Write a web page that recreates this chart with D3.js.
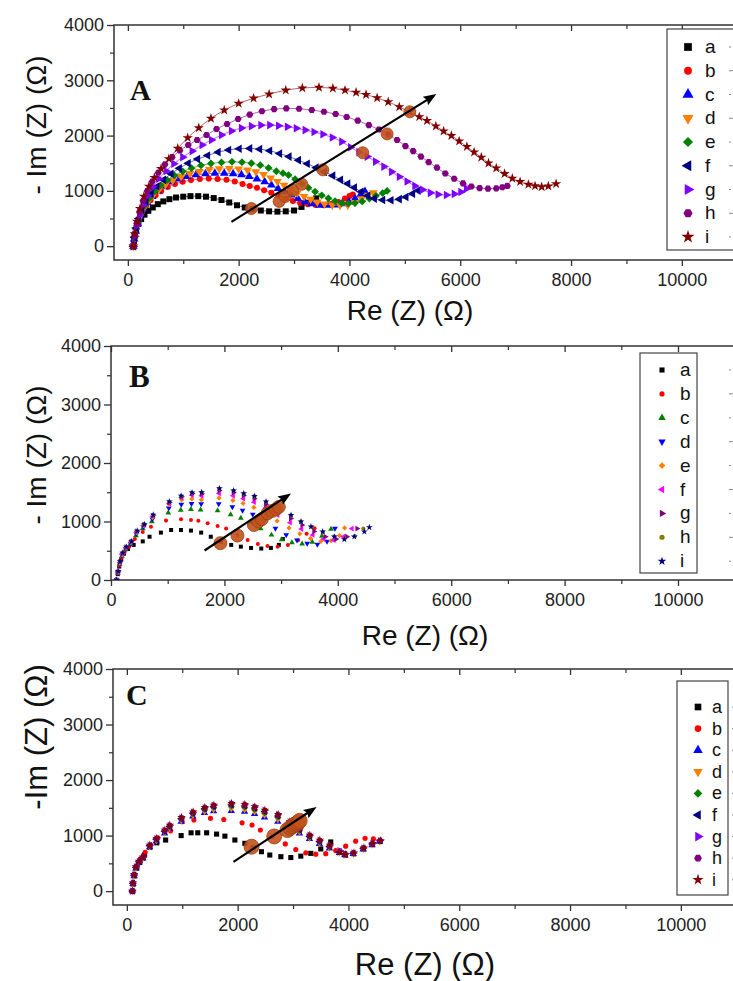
<!DOCTYPE html>
<html><head><meta charset="utf-8">
<script src="https://cdn.jsdelivr.net/npm/d3@7"></script>
<style>body{margin:0;background:#fff}svg{display:block}</style>
</head><body>
<svg id="c" width="733" height="981"></svg>
<script>
// ---------------- DATA ----------------
const seriesLabels = ["a","b","c","d","e","f","g","h","i"];
const xTickValues = [0,2000,4000,6000,8000,10000];
const yTickValues = [0,1000,2000,3000,4000];
const colorsAC = ["#000000","#ff0000","#0000ff","#ff8000","#008000","#000080","#8000ff","#800080","#800000"];
const colorsB  = ["#000000","#ff0000","#008000","#0000ff","#ff8000","#ff00ff","#800080","#808000","#000080"];
const shapesAC = ["square","circle","up","down","diamond","left","right","hexagon","star"];
const shapesB  = ["square","circle","up","down","diamond","left","right","circle","star"];

// Panel A (Re, -Im) in ohm
const A_a = [[100,0],[110,90],[125,190],[150,300],[190,400],[240,490],[300,570],[370,640],[450,700],[540,760],[640,810],[750,850],[870,880],[1000,895],[1130,905],[1270,905],[1410,895],[1550,870],[1690,835],[1830,790],[1970,740],[2110,700],[2250,670],[2400,645],[2550,630],[2700,625],[2850,630],[3000,645],[3135,710],[3270,785],[3400,865]];
const A_b = [[100,0],[115,120],[135,250],[165,380],[205,500],[260,620],[330,730],[410,830],[500,920],[600,995],[720,1070],[850,1125],[990,1165],[1140,1195],[1300,1215],[1460,1222],[1620,1215],[1780,1200],[1930,1170],[2070,1125],[2200,1090],[2330,1055],[2460,1010],[2590,965],[2720,915],[2850,865],[2980,815],[3110,780],[3250,758],[3390,745],[3530,742],[3670,760],[3800,800],[3920,860],[4000,905],[4060,935]];
const A_c = [[100,0],[115,130],[140,270],[175,410],[220,540],[280,670],[350,790],[440,900],[540,1000],[650,1085],[780,1160],[920,1215],[1070,1260],[1230,1290],[1400,1310],[1570,1318],[1740,1318],[1900,1312],[2050,1290],[2190,1260],[2330,1215],[2470,1165],[2590,1105],[2710,1045],[2830,985],[2950,925],[3070,860],[3190,805],[3320,765],[3460,742],[3600,738],[3740,745],[3870,765],[3990,800],[4100,860],[4200,930],[4280,990]];
const A_d = [[100,0],[118,140],[145,290],[180,430],[230,560],[290,690],[365,810],[455,920],[560,1020],[680,1110],[810,1190],[960,1260],[1120,1315],[1290,1350],[1470,1385],[1650,1400],[1830,1405],[2000,1398],[2160,1378],[2310,1345],[2450,1295],[2580,1235],[2700,1170],[2820,1100],[2940,1030],[3060,960],[3180,900],[3300,850],[3420,800],[3550,765],[3690,745],[3830,740],[3970,745],[4100,790],[4220,860],[4330,920],[4430,965]];
const A_e = [[100,0],[120,150],[150,310],[190,460],[245,600],[310,740],[390,870],[485,990],[590,1100],[710,1195],[840,1280],[990,1350],[1150,1410],[1320,1460],[1500,1495],[1690,1515],[1880,1525],[2060,1520],[2230,1500],[2390,1465],[2540,1415],[2680,1355],[2800,1320],[2900,1285],[3020,1210],[3140,1130],[3260,1055],[3380,985],[3500,920],[3620,865],[3740,815],[3860,780],[3980,770],[4100,780],[4230,810],[4360,860],[4480,910],[4600,960],[4680,1000]];
const A_f = [[100,0],[120,160],[150,330],[195,500],[255,660],[330,810],[420,950],[525,1080],[645,1200],[780,1310],[930,1410],[1090,1500],[1260,1575],[1440,1640],[1630,1700],[1820,1740],[2010,1762],[2200,1768],[2380,1755],[2560,1725],[2740,1675],[2910,1620],[3080,1555],[3240,1490],[3400,1420],[3550,1345],[3700,1275],[3840,1200],[3970,1130],[4090,1060],[4210,985],[4330,910],[4450,860],[4600,835],[4750,830],[4900,850],[5020,890],[5140,950],[5240,1005]];
const A_g = [[100,0],[125,180],[160,370],[210,560],[275,740],[355,910],[450,1070],[560,1220],[690,1360],[830,1490],[990,1610],[1160,1720],[1340,1830],[1510,1920],[1690,2010],[1870,2085],[2050,2135],[2230,2170],[2400,2188],[2560,2190],[2720,2178],[2880,2160],[3040,2132],[3200,2100],[3360,2065],[3520,2025],[3690,1965],[3860,1890],[4020,1790],[4170,1700],[4320,1620],[4470,1530],[4620,1440],[4760,1345],[4900,1255],[5040,1170],[5180,1090],[5320,1020],[5460,965],[5600,935],[5750,925],[5890,945],[6010,980],[6110,1040]];
const A_h = [[100,0],[125,200],[160,410],[210,620],[275,820],[350,1000],[440,1170],[550,1330],[670,1480],[800,1610],[940,1730],[1090,1830],[1250,1920],[1420,2010],[1600,2120],[1790,2210],[1990,2300],[2200,2380],[2420,2440],[2640,2478],[2860,2492],[3090,2485],[3320,2462],[3540,2430],[3750,2390],[3950,2335],[4150,2270],[4350,2190],[4530,2110],[4700,2020],[4860,1920],[5010,1810],[5150,1720],[5290,1620],[5430,1520],[5580,1420],[5730,1315],[5890,1220],[6050,1135],[6200,1080],[6350,1050],[6500,1040],[6650,1045],[6760,1065],[6850,1090]];
const A_i = [[100,0],[125,220],[165,450],[220,680],[290,900],[380,1080],[480,1240],[600,1400],[740,1580],[900,1770],[1080,1960],[1280,2140],[1500,2310],[1740,2460],[2000,2580],[2270,2675],[2550,2750],[2850,2820],[3150,2860],[3450,2870],[3700,2855],[3920,2820],[4120,2780],[4300,2740],[4500,2680],[4700,2610],[4900,2520],[5090,2430],[5260,2340],[5400,2270],[5560,2170],[5700,2080],[5840,2000],[5980,1900],[6120,1800],[6250,1700],[6380,1605],[6510,1500],[6650,1410],[6800,1310],[6940,1225],[7080,1165],[7230,1115],[7350,1088],[7470,1073],[7590,1085],[7730,1128]];
const A_marks = [[2230,680],[2730,810],[2840,900],[2980,1010],[3140,1120],[3520,1380],[4240,1690],[4680,2030],[5090,2430]];
const A_arrow = [[1870,440],[5570,2750]];

// Panel B
const B_a = [[100,0],[120,100],[145,230],[180,350],[230,450],[300,530],[400,600],[560,660],[680,740],[880,810],[1060,855],[1235,855],[1410,845],[1590,810],[1760,740],[1940,655],[2120,600],[2290,570],[2470,548],[2650,538],[2820,548],[2960,600],[3030,700]];
const B_b = [[100,0],[120,110],[148,250],[185,380],[240,480],[320,570],[420,700],[560,820],[705,910],[970,1015],[1235,1037],[1410,1026],[1540,1014],[1705,969],[1880,923],[2030,880],[2230,770],[2410,685],[2590,615],[2760,582],[2940,570],[3120,598],[3300,680],[3450,790],[3590,885]];
const B_c = [[100,0],[122,120],[152,270],[192,410],[255,520],[340,610],[440,760],[560,880],[720,1000],[1010,1150],[1230,1195],[1410,1210],[1580,1200],[1880,1185],[2110,1120],[2290,1060],[2460,980],[2640,880],[2830,770],[3010,690],[3190,640],[3370,620],[3550,650],[3720,750],[3880,870]];
const B_d = [[100,0],[122,125],[153,280],[195,420],[258,535],[345,620],[445,790],[570,910],[730,1040],[1020,1230],[1240,1290],[1420,1305],[1590,1300],[1900,1300],[2140,1250],[2320,1190],[2500,1120],[2700,1010],[2900,880],[3090,770],[3280,680],[3460,625],[3640,610],[3810,660],[3950,880]];
const B_e = [[100,0],[123,130],[155,290],[198,430],[262,545],[350,640],[450,810],[575,930],[735,1070],[1025,1290],[1245,1370],[1425,1385],[1595,1370],[1905,1400],[2150,1360],[2330,1310],[2520,1240],[2720,1140],[2930,1010],[3140,890],[3330,790],[3520,710],[3700,660],[3880,670],[4030,760],[4120,890]];
const B_f = [[100,0],[124,135],[157,300],[200,445],[265,555],[355,650],[455,825],[580,940],[738,1090],[1027,1310],[1245,1410],[1430,1450],[1600,1440],[1907,1480],[2155,1440],[2335,1390],[2525,1330],[2725,1230],[2940,1110],[3160,980],[3360,870],[3560,770],[3750,700],[3930,680],[4100,740],[4250,880]];
const B_g = [[100,0],[125,140],[158,310],[202,455],[268,560],[358,655],[458,830],[583,945],[740,1100],[1028,1325],[1245,1425],[1432,1480],[1600,1475],[1909,1530],[2160,1495],[2338,1445],[2528,1390],[2730,1290],[2945,1170],[3170,1050],[3370,940],[3580,830],[3780,740],[3970,700],[4160,740],[4340,880]];
const B_h = [[100,0],[126,145],[159,315],[204,460],[269,563],[360,658],[460,836],[585,948],[742,1108],[1029,1335],[1240,1432],[1430,1490],[1600,1495],[1910,1560],[2162,1525],[2340,1475],[2530,1430],[2732,1335],[2950,1215],[3172,1105],[3350,1000],[3540,905],[3740,820],[3940,745],[4120,705],[4300,750],[4450,880]];
const B_i = [[100,0],[127,150],[160,320],[206,465],[270,566],[362,660],[462,840],[588,950],[745,1112],[1030,1340],[1237,1438],[1429,1495],[1599,1500],[1912,1567],[2163,1528],[2342,1481],[2530,1436],[2734,1340],[2955,1230],[3175,1111],[3351,997],[3527,911],[3733,826],[3939,740],[4115,696],[4291,740],[4468,826],[4556,900]];
const B_marks = [[1930,630],[2230,760],[2520,940],[2600,1000],[2660,1040],[2760,1140],[2840,1180],[2910,1210],[2960,1250]];
const B_arrow = [[1650,505],[3175,1480]];

// Panel C
const C_a = [[100,0],[115,130],[140,280],[180,420],[240,540],[320,650],[415,790],[540,870],[700,920],[980,1000],[1160,1050],[1280,1050],[1440,1050],[1620,1027],[1770,990],[1950,920],[2130,860],[2280,780],[2430,710],[2580,650],[2780,620],[2960,605],[3140,630],[3320,680],[3500,760],[3680,885]];
const C_b = [[100,0],[117,140],[143,300],[185,450],[245,580],[330,700],[430,830],[560,960],[790,1085],[1000,1250],[1210,1280],[1510,1310],[1750,1290],[2080,1230],[2260,1190],[2410,1100],[2620,980],[2860,850],[3050,750],[3230,690],[3410,665],[3590,675],[3770,730],[3950,810],[4130,900],[4300,950],[4450,940],[4570,910]];
const C_c = [[100,0],[110,130],[130,270],[163,410],[218,510],[290,590],[410,790],[530,900],[680,1040],[770,1120],[980,1250],[1190,1345],[1400,1410],[1565,1440],[1885,1445],[2125,1430],[2305,1390],[2485,1330],[2725,1250],[2935,1140],[3115,1040],[3295,940],[3475,850],[3655,770],[3835,690],[3935,650],[4085,670],[4265,750],[4425,830],[4560,890]];
const C_d = [[100,0],[110,135],[130,280],[164,420],[219,520],[291,600],[411,805],[532,915],[682,1060],[772,1140],[982,1275],[1192,1370],[1402,1440],[1566,1475],[1886,1490],[2126,1475],[2306,1435],[2486,1375],[2726,1295],[2937,1180],[3116,1070],[3297,960],[3477,870],[3657,785],[3837,700],[3937,655],[4087,675],[4267,760],[4427,840],[4565,895]];
const C_e = [[100,0],[110,138],[130,285],[164,425],[219,525],[291,605],[411,812],[532,925],[682,1070],[772,1155],[982,1290],[1192,1390],[1403,1465],[1567,1505],[1887,1530],[2127,1510],[2307,1470],[2487,1410],[2727,1330],[2938,1205],[3117,1090],[3298,975],[3478,885],[3658,795],[3838,705],[3938,658],[4088,680],[4268,765],[4428,845],[4568,900]];
const C_f = [[100,0],[110,142],[130,288],[165,428],[220,528],[292,608],[412,818],[533,935],[683,1080],[773,1165],[984,1305],[1194,1405],[1405,1485],[1568,1525],[1888,1555],[2128,1535],[2308,1495],[2488,1435],[2728,1355],[2939,1225],[3118,1105],[3299,990],[3479,895],[3659,805],[3839,710],[3939,660],[4089,682],[4269,770],[4429,850],[4570,905]];
const C_g = [[100,0],[110,145],[130,292],[165,435],[220,535],[293,614],[414,825],[535,944],[685,1095],[775,1182],[986,1320],[1196,1420],[1407,1500],[1569,1545],[1889,1575],[2129,1555],[2309,1515],[2490,1455],[2730,1375],[2941,1245],[3119,1125],[3301,1005],[3482,912],[3662,822],[3842,730],[3942,670],[4092,688],[4272,775],[4435,858],[4575,910]];
const C_h = [[100,0],[110,140],[130,290],[165,430],[220,530],[292,610],[413,820],[534,940],[684,1090],[774,1175],[985,1315],[1195,1415],[1406,1495],[1568,1540],[1888,1570],[2128,1550],[2308,1508],[2489,1448],[2729,1370],[2940,1240],[3118,1120],[3300,1000],[3480,905],[3660,810],[3840,715],[3940,665],[4090,685],[4270,770],[4430,850],[4570,905]];
const C_i = [[100,0],[110,150],[130,300],[165,440],[220,540],[294,618],[415,829],[536,948],[686,1099],[776,1189],[987,1327],[1197,1427],[1408,1507],[1570,1550],[1890,1579],[2130,1561],[2310,1519],[2491,1459],[2731,1381],[2942,1249],[3120,1130],[3303,1009],[3484,919],[3664,829],[3845,700],[3950,660],[4100,690],[4280,780],[4440,860],[4580,910]];
const C_marks = [[2250,800],[2660,985],[2900,1100],[2950,1140],[2990,1170],[3030,1195],[3060,1215],[3090,1240],[3120,1265]];
const C_arrow = [[1925,528],[3425,1515]];

// ---------------- DRAWING ----------------
const svg = d3.select("#c");
const FONT = "'Liberation Sans', Arial, sans-serif";
const TICKC = "#222";

const hexagon = {draw(ctx, size){ const r=Math.sqrt(size/(1.5*Math.sqrt(3))); for(let k=0;k<6;k++){const a=Math.PI/3*k; const px=r*Math.cos(a), py=r*Math.sin(a); k?ctx.lineTo(px,py):ctx.moveTo(px,py);} ctx.closePath(); }};
function symbolPath(shape, size){
  switch(shape){
    case "square": return {d:d3.symbol(d3.symbolSquare, size)(), rot:0};
    case "circle": return {d:d3.symbol(d3.symbolCircle, size*0.8)(), rot:0};
    case "up": return {d:d3.symbol(d3.symbolTriangle, size*0.9)(), rot:0};
    case "down": return {d:d3.symbol(d3.symbolTriangle, size*0.9)(), rot:180};
    case "left": return {d:d3.symbol(d3.symbolTriangle, size*0.9)(), rot:-90};
    case "right": return {d:d3.symbol(d3.symbolTriangle, size*0.9)(), rot:90};
    case "diamond": return {d:d3.symbol(d3.symbolSquare, size*0.85)(), rot:45};
    case "hexagon": return {d:d3.symbol(hexagon, size*0.9)(), rot:0};
    case "star": return {d:d3.symbol(d3.symbolStar, size*0.9)(), rot:0};
  }
}

function drawPanel(cfg){
  const x = d3.scaleLinear().domain(cfg.xDomain).range([cfg.left, cfg.right]);
  const y = d3.scaleLinear().domain(cfg.yDomain).range([cfg.bottom, cfg.top]);
  const g = svg.append("g");
  const clipId = "clip"+cfg.name;
  g.append("clipPath").attr("id",clipId).append("rect")
    .attr("x",cfg.left).attr("y",cfg.top).attr("width",cfg.right-cfg.left).attr("height",cfg.bottom-cfg.top);

  const ax = g.append("g").attr("font-family",FONT);
  ax.append("g").attr("transform",`translate(${cfg.left},0)`)
    .call(d3.axisLeft(y).tickValues(yTickValues).tickSize(7).tickPadding(3).tickSizeOuter(0).tickFormat(d3.format("d")))
    .call(s=>{s.select(".domain").remove(); s.selectAll("text").attr("font-size",18).attr("fill",TICKC); s.selectAll("line").attr("stroke","#333").attr("stroke-width",1.3);});
  ax.append("g").attr("transform",`translate(${cfg.left},0)`)
    .call(d3.axisLeft(y).tickValues([500,1500,2500,3500]).tickSize(4).tickFormat(""))
    .call(s=>{s.select(".domain").remove(); s.selectAll("line").attr("stroke","#333").attr("stroke-width",1.2);});
  ax.append("g").attr("transform",`translate(0,${cfg.bottom})`)
    .call(d3.axisBottom(x).tickValues(xTickValues).tickSize(6).tickPadding(7).tickFormat(d3.format("d")))
    .call(s=>{s.select(".domain").remove(); s.selectAll("text").attr("font-size",18).attr("fill",TICKC); s.selectAll("line").attr("stroke","#333").attr("stroke-width",1.3);});
  ax.append("g").attr("transform",`translate(0,${cfg.bottom})`)
    .call(d3.axisBottom(x).tickValues([1000,3000,5000,7000,9000,11000]).tickSize(4).tickFormat(""))
    .call(s=>{s.select(".domain").remove(); s.selectAll("line").attr("stroke","#333").attr("stroke-width",1.2);});
  ax.append("g").attr("transform",`translate(0,${cfg.top})`)
    .call(d3.axisBottom(x).tickValues(xTickValues).tickSize(6).tickFormat(""))
    .call(s=>{s.select(".domain").remove(); s.selectAll("line").attr("stroke","#333").attr("stroke-width",1.3);});
  ax.append("g").attr("transform",`translate(0,${cfg.top})`)
    .call(d3.axisBottom(x).tickValues([1000,3000,5000,7000,9000,11000]).tickSize(4).tickFormat(""))
    .call(s=>{s.select(".domain").remove(); s.selectAll("line").attr("stroke","#333").attr("stroke-width",1.2);});
  g.append("path").attr("d",`M${cfg.right},${cfg.top}H${cfg.left}V${cfg.bottom}H${cfg.right}`)
    .attr("fill","none").attr("stroke","#333").attr("stroke-width",1.5);

  const plot = g.append("g").attr("clip-path",`url(#${clipId})`);
  cfg.series.forEach((pts,k)=>{
    const col = cfg.colors[k];
    if(cfg.lines){
      plot.append("path").attr("d",d3.line().x(d=>x(d[0])).y(d=>y(d[1])).curve(d3.curveCatmullRom)(pts))
        .attr("fill","none").attr("stroke",col).attr("stroke-opacity",0.6).attr("stroke-width",1);
    }
    const sp = symbolPath(cfg.shapes[k], cfg.markSize);
    plot.append("g").selectAll("path").data(pts).join("path")
      .attr("d",sp.d).attr("transform",d=>`translate(${x(d[0])},${y(d[1])}) rotate(${sp.rot})`)
      .attr("fill",col).attr("stroke","none");
  });
  plot.append("g").selectAll("circle").data(cfg.marks).join("circle")
    .attr("cx",d=>x(d[0])).attr("cy",d=>y(d[1])).attr("r",cfg.markR)
    .attr("fill","#c1521c").attr("fill-opacity",0.9).attr("stroke","#9c3f12").attr("stroke-width",0.8);
  const [p0,p1] = cfg.arrow;
  const X0=x(p0[0]),Y0=y(p0[1]),X1=x(p1[0]),Y1=y(p1[1]);
  const ang=Math.atan2(Y1-Y0,X1-X0), L=13, W=5;
  const bx=X1-L*Math.cos(ang), by=Y1-L*Math.sin(ang);
  plot.append("line").attr("x1",X0).attr("y1",Y0).attr("x2",bx+3*Math.cos(ang)).attr("y2",by+3*Math.sin(ang))
    .attr("stroke","#000").attr("stroke-width",2.2);
  plot.append("path").attr("d",`M${X1},${Y1}L${bx-W*Math.sin(ang)},${by+W*Math.cos(ang)}L${bx+2*Math.cos(ang)},${by+2*Math.sin(ang)}L${bx+W*Math.sin(ang)},${by-W*Math.cos(ang)}Z`).attr("fill","#000");

  g.append("text").attr("x",cfg.letterX).attr("y",cfg.letterY).text(cfg.name)
    .attr("font-family","'Liberation Serif','Times New Roman',serif").attr("font-weight","bold").attr("font-size",cfg.letterSize).attr("fill","#111");
  g.append("text").attr("transform",`translate(${cfg.yLabelX},${cfg.yLabelY}) rotate(-90)`).attr("text-anchor","middle")
    .attr("font-family",FONT).attr("font-size",cfg.titleSize).attr("fill","#111").text(cfg.yTitle);
  g.append("text").attr("x",cfg.xLabelX).attr("y",cfg.xLabelY).attr("text-anchor","middle")
    .attr("font-family",FONT).attr("font-size",cfg.titleSize).attr("fill","#111").text("Re (Z) (\u03A9)");

  const lg = g.append("g");
  lg.append("rect").attr("x",cfg.legX).attr("y",cfg.legY).attr("width",cfg.legW).attr("height",cfg.legH)
    .attr("fill","#fff").attr("stroke","#444").attr("stroke-width",1.2);
  seriesLabels.forEach((lab,k)=>{
    const yy = cfg.legRow0 + k*cfg.legStep;
    const sp = symbolPath(cfg.shapes[k], cfg.legSize);
    lg.append("path").attr("d",sp.d).attr("transform",`translate(${cfg.legSymX},${yy}) rotate(${sp.rot})`).attr("fill",cfg.colors[k]);
    lg.append("text").attr("x",cfg.legTextX).attr("y",yy+6).text(lab)
      .attr("font-family",FONT).attr("font-size",cfg.legFont).attr("fill","#111");
    lg.append("line").attr("x1",cfg.legDashX).attr("x2",cfg.legDashX+(k%2?5:2)).attr("y1",yy).attr("y2",yy)
      .attr("stroke","#888").attr("stroke-width",1);
  });
}

drawPanel({name:"A", xDomain:[-250,11500], yDomain:[-250,4000], left:114, right:114+11750*0.0554, top:25, bottom:260,
  series:[A_a,A_b,A_c,A_d,A_e,A_f,A_g,A_h,A_i], colors:colorsAC, shapes:shapesAC, lines:true, markSize:36,
  marks:A_marks, markR:6, arrow:A_arrow,
  letterX:130, letterY:100, letterSize:29, yTitle:"- Im (Z) (\u03A9)", titleSize:28, yLabelX:46, yLabelY:125, xLabelX:410, xLabelY:320,
  legX:667, legY:29, legW:100, legH:221, legRow0:47, legStep:23.75, legSymX:688, legTextX:705, legFont:19, legSize:60, legDashX:729});

drawPanel({name:"B", xDomain:[0,11500], yDomain:[0,4000], left:111, right:111+11500*0.0567, top:346, bottom:580,
  series:[B_a,B_b,B_c,B_d,B_e,B_f,B_g,B_h,B_i], colors:colorsB, shapes:shapesB, lines:false, markSize:16,
  marks:B_marks, markR:6.5, arrow:B_arrow,
  letterX:129, letterY:387, letterSize:31, yTitle:"- Im (Z) (\u03A9)", titleSize:28, yLabelX:46, yLabelY:455, xLabelX:425, xLabelY:645,
  legX:640, legY:353, legW:57, legH:220, legRow0:370, legStep:23.9, legSymX:662, legTextX:680, legFont:19, legSize:26, legDashX:729});

drawPanel({name:"C", xDomain:[-250,11500], yDomain:[-250,4000], left:113, right:113+11750*0.0554, top:669, bottom:905,
  series:[C_a,C_b,C_c,C_d,C_e,C_f,C_g,C_h,C_i], colors:colorsAC, shapes:shapesAC, lines:false, markSize:26,
  marks:C_marks, markR:7.5, arrow:C_arrow,
  letterX:126, letterY:705, letterSize:30, yTitle:"-Im (Z) (\u03A9)", titleSize:31, yLabelX:47, yLabelY:737, xLabelX:425, xLabelY:975,
  legX:677, legY:681, legW:51, legH:214, legRow0:707, legStep:21.6, legSymX:698, legTextX:712, legFont:18, legSize:44, legDashX:732});
</script>
</body></html>
